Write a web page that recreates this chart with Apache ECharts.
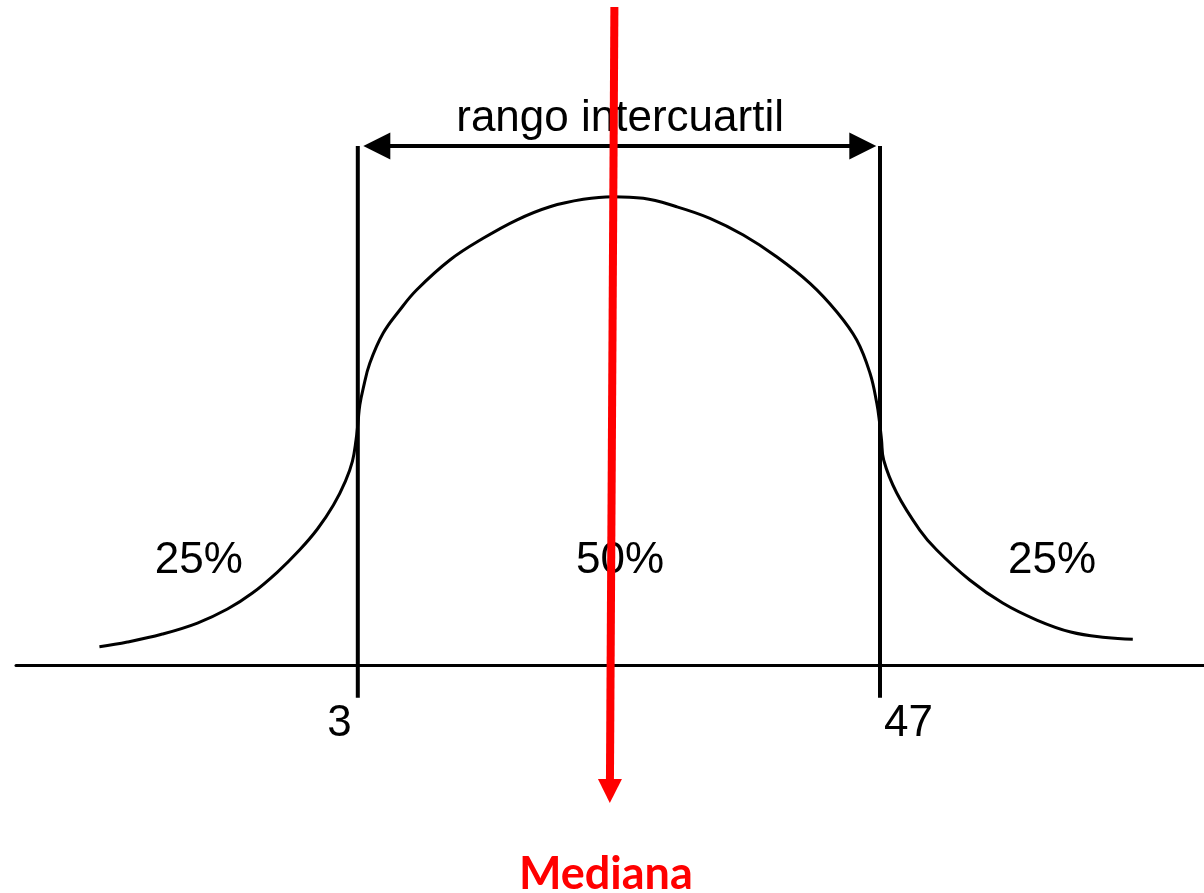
<!DOCTYPE html>
<html>
<head>
<meta charset="utf-8">
<script src="https://cdn.jsdelivr.net/npm/echarts@6/dist/echarts.min.js"></script>
<style>
  html, body { margin: 0; padding: 0; background: #fff; }
  #main { width: 1204px; height: 893px; }
</style>
</head>
<body>
<div id="main"></div>
<script>
// curva de densidad (x, altura relativa)
var curvaX = [-18.77, -16.41, -13.46, -10.51, -7.98, -5.88, -3.77, -1.91, -0.40, 0.95, 1.96, 2.55, 2.85,
  3.02, 3.17, 3.46, 4.01, 5.13, 6.54, 7.95, 10.76, 13.56, 16.38, 19.19, 22.00, 24.49,
  27.05, 29.87, 32.67, 35.48, 38.29, 41.10, 43.35, 45.04, 46.16, 46.73, 46.96,
  47.13, 47.31, 48.41, 50.35, 51.78, 54.56, 57.34, 60.21, 63.07, 66.02, 68.30];
var curvaY = [4.02, 5.02, 6.73, 9.08, 12.07, 15.49, 19.98, 24.68, 29.17, 34.29, 39.42, 43.70, 48.18,
  52.03, 55.66, 59.29, 64.57, 70.98, 75.96, 80.24, 86.65, 91.28, 95.19, 98.03, 99.62, 100.17,
  99.83, 98.03, 95.56, 91.99, 87.35, 81.67, 75.60, 69.55, 62.44, 56.03, 52.03,
  48.18, 43.91, 36.86, 28.95, 24.68, 18.27, 13.35, 9.72, 7.16, 5.98, 5.60];

var cuartiles = [3, 47];
var etiquetasCuartil = ['3', '47'];
var porcentajes = ['25%', '50%', '25%'];
var mediana = 24.4;

var fuente = '"Liberation Sans", Arial, sans-serif';
var triangulo = 'path://M5,0L10,10L0,10Z';

var curva = curvaX.map(function (x, i) { return [x, curvaY[i]]; });

var myChart = echarts.init(document.getElementById('main'));

var lineasCuartil = cuartiles.map(function (q) {
  return {
    type: 'line',
    data: [[q, -6.9], [q, 111]],
    showSymbol: false,
    symbol: 'none',
    lineStyle: { color: '#000', width: 4 },
    z: 3,
    silent: true
  };
});

option = {
  backgroundColor: '#fff',
  animation: false,
  grid: { left: 16, right: 0, top: 0, bottom: 0 },
  xAxis: {
    type: 'value',
    min: -25.8,
    max: 74.3,
    axisLine: { show: true, onZero: true, lineStyle: { color: '#000', width: 3 } },
    axisTick: { show: false },
    axisLabel: { show: false },
    splitLine: { show: false }
  },
  yAxis: {
    type: 'value',
    min: -48.6,
    max: 142.2,
    show: false
  },
  series: [
    {
      type: 'line',
      data: curva,
      smooth: 0.4,
      showSymbol: false,
      symbol: 'none',
      lineStyle: { color: '#000', width: 3 },
      z: 3
    }
  ].concat(lineasCuartil).concat([
    {
      // rango intercuartil
      type: 'lines',
      coordinateSystem: 'cartesian2d',
      symbol: [triangulo, triangulo],
      symbolSize: 27,
      lineStyle: { color: '#000', width: 4, opacity: 1 },
      data: [{ coords: [[cuartiles[0] + 1.6, 111], [cuartiles[1] - 1.45, 111]] }],
      z: 4
    },
    {
      type: 'scatter',
      symbolSize: 0,
      silent: true,
      itemStyle: { opacity: 1 },
      label: {
        show: true, position: 'inside', color: '#000', opacity: 1,
        fontFamily: fuente, fontSize: 44,
        formatter: function (p) { return p.data.t; }
      },
      data: [
        { value: [25.1, 116.8], t: 'rango intercuartil' },
        { value: [-10.4, 22.3], t: porcentajes[0] },
        { value: [25.1, 22.3], t: porcentajes[1] },
        { value: [61.5, 22.3], t: porcentajes[2] }
      ],
      z: 5
    },
    {
      type: 'scatter',
      symbolSize: 0,
      silent: true,
      itemStyle: { opacity: 1 },
      label: {
        show: true, color: '#000', opacity: 1, fontFamily: fuente, fontSize: 44,
        formatter: function (p) { return p.data.t; }
      },
      data: [
        { value: [cuartiles[0], -12.5], t: etiquetasCuartil[0], label: { position: 'left', distance: 6 } },
        { value: [cuartiles[1], -12.5], t: etiquetasCuartil[1], label: { position: 'right', distance: 4 } }
      ],
      z: 5
    },
    {
      // mediana
      type: 'lines',
      coordinateSystem: 'cartesian2d',
      symbol: ['none', triangulo],
      symbolSize: 24,
      lineStyle: { color: '#ff0000', width: 8, opacity: 1 },
      data: [{ coords: [[mediana + 0.22, 140.7], [mediana - 0.16, -26.8]] }],
      z: 10
    },
    {
      type: 'scatter',
      symbolSize: 0,
      silent: true,
      itemStyle: { opacity: 1 },
      label: {
        show: true, position: 'inside', color: '#ff0000', opacity: 1,
        fontFamily: 'Lato, "Open Sans", sans-serif', fontWeight: 'bold', fontSize: 45,
        formatter: function (p) { return p.data.t; }
      },
      data: [{ value: [mediana - 0.5, -44.6], t: 'Mediana' }],
      z: 10
    }
  ])
};
myChart.setOption(option);
</script>
</body>
</html>
